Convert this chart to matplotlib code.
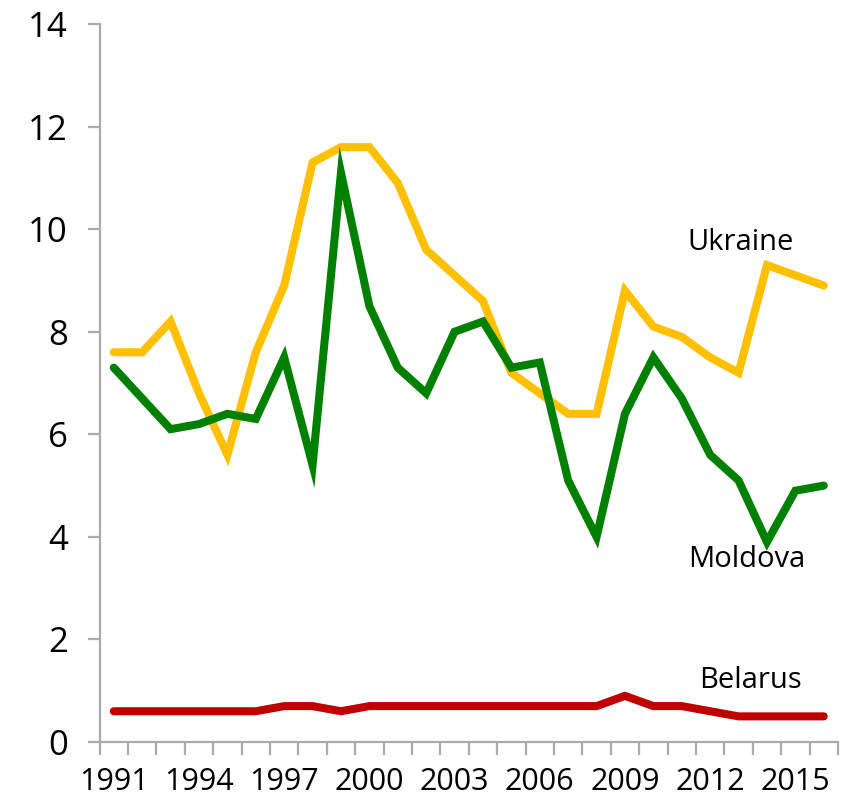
import matplotlib
matplotlib.use("Agg")
import matplotlib.pyplot as plt

# --- data ---
years = list(range(1991, 2017))
ukraine = [7.6, 7.6, 8.2, 6.8, 5.6, 7.6, 8.9, 11.3, 11.6, 11.6, 10.9, 9.6, 9.1,
           8.6, 7.2, 6.8, 6.4, 6.4, 8.8, 8.1, 7.9, 7.5, 7.2, 9.3, 9.1, 8.9]
moldova = [7.3, 6.7, 6.1, 6.2, 6.4, 6.3, 7.5, 5.4, 11.1, 8.5, 7.3, 6.8, 8.0,
           8.2, 7.3, 7.4, 5.1, 4.0, 6.4, 7.5, 6.7, 5.6, 5.1, 3.9, 4.9, 5.0]
belarus = [0.6, 0.6, 0.6, 0.6, 0.6, 0.6, 0.7, 0.7, 0.6, 0.7, 0.7, 0.7, 0.7,
           0.7, 0.7, 0.7, 0.7, 0.7, 0.9, 0.7, 0.7, 0.6, 0.5, 0.5, 0.5, 0.5]
yticks = [0, 2, 4, 6, 8, 10, 12, 14]

plt.rcParams['font.family'] = ['Open Sans', 'DejaVu Sans']

fig = plt.figure(figsize=(8.46, 8.02), dpi=100)
ax = fig.add_axes([0.1177, 0.0748, 0.8728, 0.8952])

x = list(range(len(years)))
ax.plot(x, ukraine, color="#FFC000", lw=5.8, solid_joinstyle="miter", solid_capstyle="round")
ax.plot(x, moldova, color="#008000", lw=5.8, solid_joinstyle="miter", solid_capstyle="round")
ax.plot(x, belarus, color="#C00000", lw=5.8, solid_joinstyle="miter", solid_capstyle="round")

ax.set_xlim(-0.5, len(years) - 0.5)
ax.set_ylim(0, 14)

gray = "#ababab"
for s in ["top", "right"]:
    ax.spines[s].set_visible(False)
for s in ["left", "bottom"]:
    ax.spines[s].set_color(gray)
    ax.spines[s].set_linewidth(1.6)

ax.set_yticks(yticks)
ax.set_yticklabels([str(v) for v in yticks], fontsize=25)
ax.tick_params(axis="y", length=9, width=1.6, color=gray, pad=14)

ax.set_xticks(x[::3])
ax.set_xticklabels([str(y) for y in years[::3]], fontsize=22)
ax.set_xticks([i - 0.5 for i in range(len(years) + 1)], minor=True)
ax.tick_params(axis="x", which="major", length=0, pad=18)
ax.tick_params(axis="x", which="minor", length=9, width=1.6, color=gray)

# series labels
ax.text(20.2, 9.75, "Ukraine", fontsize=21, va="center")
ax.text(20.22, 3.55, "Moldova", fontsize=21, va="center")
ax.text(20.6, 1.2, "Belarus", fontsize=21, va="center")

fig.savefig("out.png", dpi=100)
